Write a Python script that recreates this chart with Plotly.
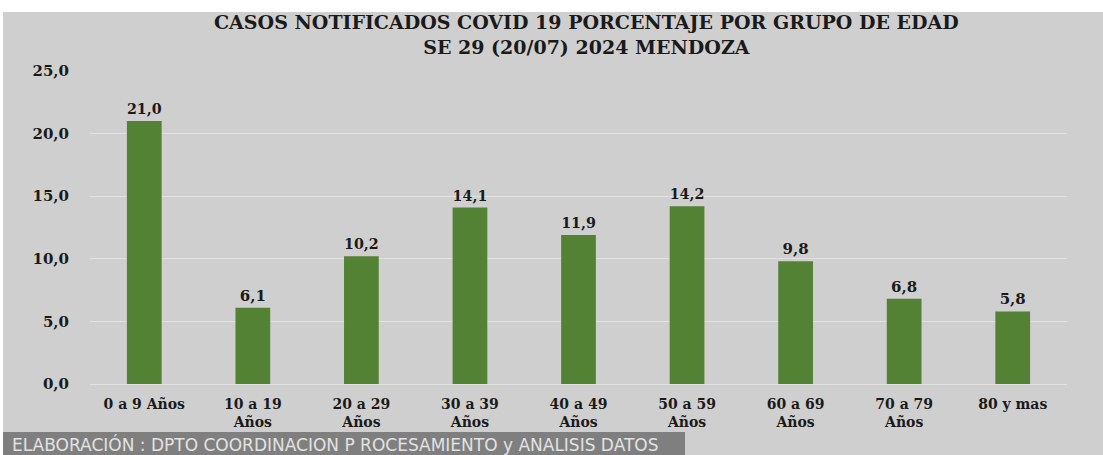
import plotly.graph_objects as go

categories = ["0 a 9 Años", "10 a 19<br>Años", "20 a 29<br>Años", "30 a 39<br>Años",
              "40 a 49<br>Años", "50 a 59<br>Años", "60 a 69<br>Años", "70 a 79<br>Años", "80 y mas"]
values = [21.0, 6.1, 10.2, 14.1, 11.9, 14.2, 9.8, 6.8, 5.8]
y_ticks = [0, 5, 10, 15, 20, 25]
title_line1 = "CASOS NOTIFICADOS COVID 19 PORCENTAJE POR GRUPO DE EDAD"
title_line2 = "SE 29 (20/07) 2024 MENDOZA"
footer = "ELABORACIÓN : DPTO COORDINACION P ROCESAMIENTO y ANALISIS DATOS"

W, H = 1103, 455
BG = "#d0cfcf"
GREEN = "#548235"
TXT = "#1a1a1a"
SERIF = "DejaVu Serif"

fig = go.Figure()
fig.add_trace(go.Bar(
    x=categories, y=values, marker_color=GREEN, marker_line_width=0,
    text=values, texttemplate="%{y:.1f}", textposition="outside",
    textfont=dict(family=SERIF, size=15, color=TXT, weight="bold"),
    cliponaxis=False, hoverinfo="skip",
))

fig.update_layout(
    width=W, height=H,
    margin=dict(l=0, r=0, t=0, b=0),
    paper_bgcolor="white", plot_bgcolor="rgba(0,0,0,0)",
    separators=",.",
    bargap=0.68,
    showlegend=False,
    xaxis=dict(domain=[90 / W, 1067 / W], showgrid=False, showline=False, zeroline=False,
               tickfont=dict(family=SERIF, size=14, color=TXT, weight="bold"),
               ticklabelstandoff=10,
               ticks="", fixedrange=True, automargin=False),
    yaxis=dict(domain=[(H - 384) / H, (H - 71) / H], range=[0, 25], tickvals=y_ticks,
               tickformat=".1f", showgrid=True, gridcolor="#e2e1e1", gridwidth=1,
               zeroline=True, zerolinecolor="#e2e1e1", zerolinewidth=1,
               tickfont=dict(family=SERIF, size=15, color=TXT, weight="bold"),
               ticklabelstandoff=20, ticks="", fixedrange=True, automargin=False),
    shapes=[
        dict(type="rect", xref="paper", yref="paper", x0=3 / W, x1=1, y0=0, y1=(H - 12) / H,
             fillcolor=BG, line_width=0, layer="below"),
        dict(type="rect", xref="paper", yref="paper", x0=3 / W, x1=685 / W, y0=0, y1=(H - 432) / H,
             fillcolor="#7f7f7f", line_width=0, layer="above"),
    ],
    annotations=[
        dict(text="<b>" + title_line1 + "<br>" + title_line2 + "</b>",
             xref="paper", yref="paper", x=586 / W, y=(H - 35) / H, xanchor="center", yanchor="middle",
             showarrow=False, align="center", font=dict(family=SERIF, size=19, color=TXT)),
        dict(text=footer,
             xref="paper", yref="paper", x=10 / W, y=(H - 444) / H, xanchor="left", yanchor="middle",
             showarrow=False, font=dict(family="DejaVu Sans", size=17, color="#e2e2e2")),
    ],
)

fig.write_html("out.html", config={"displayModeBar": False},
               post_script="document.body.style.margin='0';")
